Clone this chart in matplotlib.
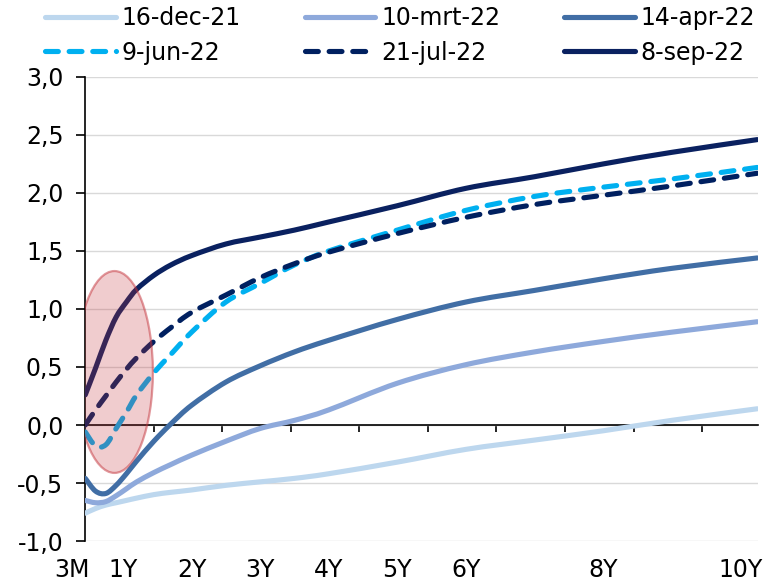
import numpy as np
import matplotlib

matplotlib.use('Agg')
import matplotlib.pyplot as plt
from matplotlib.patches import Ellipse, PathPatch
from matplotlib.path import Path
from matplotlib.lines import Line2D
from matplotlib.transforms import blended_transform_factory

plt.rcParams['font.family'] = ['DejaVu Sans']

# maturity in years (first point is where the y axis sits)
tenors = [0.45, 0.6, 0.75, 0.9, 1.05, 1.2, 1.45, 1.7, 2.0, 2.5, 3.0, 3.5, 4.0, 5.0, 6.0, 7.0, 8.0, 9.0, 10.25]

# swap curves (%) per date
dec21 = [-0.76, -0.72, -0.69, -0.67, -0.65, -0.63, -0.60, -0.58, -0.56, -0.52, -0.49, -0.46, -0.42, -0.32, -0.21, -0.13, -0.05, 0.04, 0.14]
mrt22 = [-0.65, -0.67, -0.66, -0.61, -0.55, -0.49, -0.41, -0.34, -0.26, -0.14, -0.03, 0.04, 0.13, 0.36, 0.52, 0.63, 0.72, 0.80, 0.89]
apr22 = [-0.46, -0.57, -0.59, -0.52, -0.42, -0.31, -0.14, 0.01, 0.17, 0.37, 0.51, 0.63, 0.73, 0.91, 1.06, 1.16, 1.26, 1.35, 1.44]
jun22 = [-0.06, -0.18, -0.17, -0.03, 0.11, 0.26, 0.45, 0.61, 0.80, 1.06, 1.22, 1.38, 1.50, 1.68, 1.85, 1.97, 2.05, 2.12, 2.22]
jul22 = [0.00, 0.13, 0.25, 0.37, 0.48, 0.58, 0.72, 0.84, 0.97, 1.12, 1.27, 1.39, 1.49, 1.65, 1.79, 1.90, 1.98, 2.06, 2.17]
sep22 = [0.26, 0.49, 0.73, 0.93, 1.06, 1.17, 1.29, 1.38, 1.46, 1.56, 1.62, 1.68, 1.75, 1.89, 2.04, 2.14, 2.25, 2.35, 2.46]

labels = ['16-dec-21', '10-mrt-22', '14-apr-22', '9-jun-22', '21-jul-22', '8-sep-22']
colors = ['#BDD7EE', '#8EA9DB', '#416EA5', '#00B0F0', '#002060', '#0A2160']
dashed = [False, False, False, True, True, False]

tick_pos = [0.25, 1, 2, 3, 4, 5, 6, 8, 10]
tick_lbl = ['3M', '1Y', '2Y', '3Y', '4Y', '5Y', '6Y', '8Y', '10Y']

x_min, x_max = 0.446, 10.26
LW = 3.7
DASH = (2.5, 2.1)


def smooth_path(x, y):
    # smoothed line through the points (Catmull-Rom as cubic bezier segments)
    pts = np.column_stack([x, y])
    ext = np.vstack([pts[0], pts, pts[-1]])
    verts = [pts[0]]
    codes = [Path.MOVETO]
    for i in range(len(pts) - 1):
        p0, p1, p2, p3 = ext[i], ext[i + 1], ext[i + 2], ext[i + 3]
        verts += [p1 + (p2 - p0) / 6, p2 - (p3 - p1) / 6, p2]
        codes += [Path.CURVE4] * 3
    return Path(verts, codes)


fig = plt.figure(figsize=(7.74, 5.83), dpi=100)
ax = fig.add_axes([0.1098, 0.072, 0.8695, 0.796])

series = [dec21, mrt22, apr22, jun22, jul22, sep22]
handles = []
for vals, lab, col, dsh in zip(series, labels, colors, dashed):
    patch = PathPatch(smooth_path(tenors, vals), fill=False, edgecolor=col, lw=LW,
                      capstyle='round', joinstyle='round', zorder=3)
    if dsh:
        patch.set_linestyle((0, DASH))
    ax.add_patch(patch)
    h = Line2D([], [], color=col, lw=LW, solid_capstyle='round', dash_capstyle='round', label=lab)
    if dsh:
        h.set_dashes(DASH)
    handles.append(h)

# highlight the short end
ell = Ellipse((0.876, 0.457), 1.12, 1.74, facecolor=(196/255, 52/255, 60/255, 0.25),
              edgecolor=(196/255, 52/255, 60/255, 0.5), lw=1.6, zorder=5)
ax.add_patch(ell)

ax.set_xlim(x_min, x_max)
ax.set_ylim(-1.0, 3.0)
yt = np.arange(-1.0, 3.01, 0.5)
ax.set_yticks(yt)
ax.set_yticklabels([f'{v:.1f}'.replace('.', ',') for v in yt])
ax.yaxis.grid(True, color='#D9D9D9', lw=1)
ax.set_axisbelow(True)
ax.tick_params(axis='y', length=6.5, width=1.2, labelsize=17, pad=9)

# x axis crosses at zero, ticks every year from the axis start
ax.spines['bottom'].set_position(('data', 0))
ax.spines['bottom'].set_linewidth(1.2)
ax.spines['left'].set_linewidth(1.2)
ax.spines['top'].set_visible(False)
ax.spines['right'].set_visible(False)
ax.set_xticks(x_min + np.arange(1, 10))
ax.tick_params(axis='x', length=5, width=1.2, labelbottom=False)

trans = blended_transform_factory(ax.transData, ax.transAxes)
for p, t in zip(tick_pos, tick_lbl):
    ax.text(p, -0.062, t, transform=trans, ha='center', va='center', fontsize=17, clip_on=False)

# legend filled row by row
order = [0, 3, 1, 4, 2, 5]
fig.legend([handles[i] for i in order], [labels[i] for i in order],
           loc='upper left', bbox_to_anchor=(45 / 774, 1 - 6 / 583), ncol=3, frameon=False,
           fontsize=17, handlelength=3.0, handletextpad=0.25, columnspacing=2.7,
           labelspacing=0.45, borderpad=0, borderaxespad=0)

fig.savefig('out.png', dpi=100)
